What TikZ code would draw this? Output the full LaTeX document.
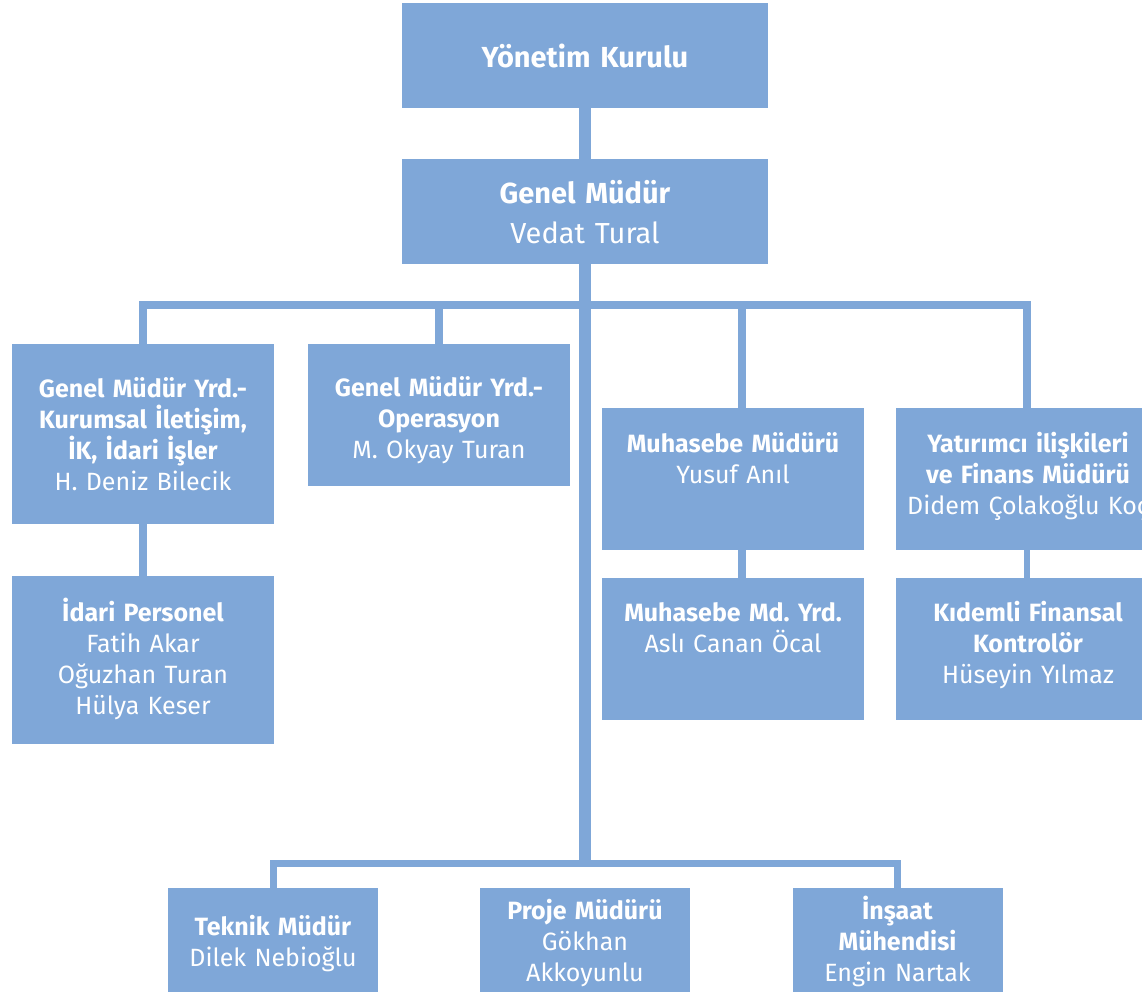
\documentclass[tikz,border=0pt]{standalone}
\usepackage{fontspec}
\setmainfont{Fira Sans}
\usepackage{xcolor}
\definecolor{orgblue}{RGB}{127,167,216}
\frenchspacing

\begin{document}
\begin{tikzpicture}[x=1pt,y=-1pt,
	box/.style={fill=orgblue,inner sep=0pt,outer sep=0pt},
	lbl/.style={text=white,anchor=base,align=center,text width=300pt,inner sep=0pt,font=\fontsize{25}{31}\selectfont},
	biglbl/.style={lbl,font=\fontsize{29}{40}\selectfont},
	trunk/.style={draw=orgblue,line width=12pt},
	branch/.style={draw=orgblue,line width=8pt,line join=miter}]
\useasboundingbox (0,0) rectangle (1142,991);
\clip (0,0) rectangle (1142,991);
\node[box,minimum width=366pt,minimum height=105pt] (yk) at (585,55.5) {};
\node[box,minimum width=366pt,minimum height=105pt] (gm) at (585,211.5) {};
\node[box,minimum width=262pt,minimum height=180pt] (kurum) at (143,434) {};
\node[box,minimum width=262pt,minimum height=168pt] (idari) at (143,660) {};
\node[box,minimum width=262pt,minimum height=142pt] (ops) at (439,415) {};
\node[box,minimum width=262pt,minimum height=142pt] (muh) at (733,479) {};
\node[box,minimum width=262pt,minimum height=142pt] (mdy) at (733,649) {};
\node[box,minimum width=262pt,minimum height=142pt] (yat) at (1027,479) {};
\node[box,minimum width=262pt,minimum height=142pt] (kid) at (1027,649) {};
\node[box,minimum width=210pt,minimum height=122pt] (teknik) at (273,949) {};
\node[box,minimum width=210pt,minimum height=122pt] (proje) at (585,949) {};
\node[box,minimum width=210pt,minimum height=122pt] (insaat) at (897.5,949) {};
\coordinate (busT) at (586,305);
\coordinate (busB) at (586,863);
\draw[trunk] (yk.south) -- (gm.north);
\draw[trunk] (gm.south) -- (gm.south |- busB);
\draw[branch] (kurum.north) -- (kurum.north |- busT) -- (yat.north |- busT) -- (yat.north);
\draw[branch] (ops.north) -- (ops.north |- busT);
\draw[branch] ([xshift=9pt]muh.north) -- ([xshift=9pt]muh.north |- busT);
\draw[branch] (kurum.south) -- (idari.north);
\draw[branch] ([xshift=9pt]muh.south) -- ([xshift=9pt]mdy.north);
\draw[branch,line width=6pt] (yat.south) -- (kid.north);
\draw[branch,line width=7pt] (teknik.north) -- (teknik.north |- busB) -- (insaat.north |- busB) -- (insaat.north);
\node[biglbl] (ykT) at (585,67) {\textbf{Yönetim Kurulu}};
\node[biglbl] (gmT) at (585,203) {\textbf{Genel Müdür}\\Vedat Tural};
\node[lbl] (kurumT) at (143,397) {\textbf{Genel Müdür Yrd.-}\\\textbf{Kurumsal İletişim,}\\\textbf{İK, İdari İşler}\\H. Deniz Bilecik};
\node[lbl] (opsT) at (439,396) {\textbf{Genel Müdür Yrd.-}\\\textbf{Operasyon}\\M. Okyay Turan};
\node[lbl] (idariT) at (143,621) {\textbf{İdari Personel}\\Fatih Akar\\Oğuzhan Turan\\Hülya Keser};
\node[lbl] (muhT) at (733,452) {\textbf{Muhasebe Müdürü}\\Yusuf Anıl};
\node[lbl] (yatT) at (1028,452) {\textbf{Yatırımcı ilişkileri}\\\textbf{ve Finans Müdürü}\\Didem Çolakoğlu Koç};
\node[lbl] (mdyT) at (733,621) {\textbf{Muhasebe Md. Yrd.}\\Aslı Canan Öcal};
\node[lbl] (kidT) at (1028,621) {\textbf{Kıdemli Finansal}\\\textbf{Kontrolör}\\Hüseyin Yılmaz};
\node[lbl] (teknikT) at (273,935) {\textbf{Teknik Müdür}\\Dilek Nebioğlu};
\node[lbl] (projeT) at (585,919) {\textbf{Proje Müdürü}\\Gökhan\\Akkoyunlu};
\node[lbl] (insaatT) at (897.5,919) {\textbf{İnşaat}\\\textbf{Mühendisi}\\Engin Nartak};
\end{tikzpicture}
\end{document}
